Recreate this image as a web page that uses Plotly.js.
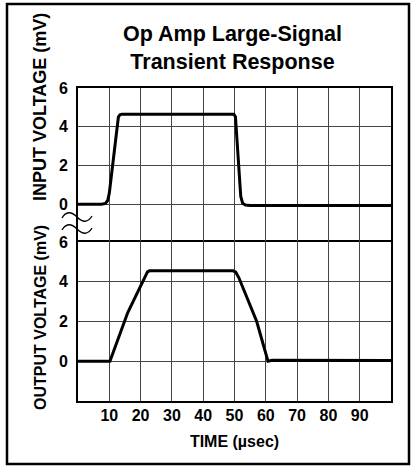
<!DOCTYPE html>
<html>
<head>
<meta charset="utf-8">
<script src="https://cdn.plot.ly/plotly-3.0.1.min.js"></script>
<style>html,body{margin:0;padding:0;background:#fff;}#chart{width:411px;height:466px;}</style>
</head>
<body>
<div id="chart"></div>
<script>
// ---- data ----
var inputTime  = [0, 7.5, 8.8, 9.5, 10.0, 12.9, 13.4, 14.0, 49.8, 50.3, 52.0, 52.6, 53.5, 55, 100];
var inputMv    = [0, 0, 0.04, 0.2, 0.57, 4.5, 4.62, 4.65, 4.65, 4.52, 0.4, 0.05, -0.04, -0.06, -0.06];
var outputTime = [0, 10.2, 15.9, 22.2, 22.8, 49.6, 50.4, 51.4, 57.1, 60.7, 62, 100];
var outputMv   = [0, 0, 2.45, 4.5, 4.55, 4.55, 4.48, 4.2, 2.0, 0.0, 0.05, 0.04];
var xTickVals  = [0, 10, 20, 30, 40, 50, 60, 70, 80, 90, 100];
var xTickText  = ['', '10', '20', '30', '40', '50', '60', '70', '80', '90', ''];
var yTickVals  = [0, 2, 4, 6];
var yTickText  = ['0', '2', '4', '6'];

function bold(arr) { return arr.map(function (s) { return s ? '<b>' + s + '</b>' : ''; }); }

// ---- layout helpers ----
var W = 411, H = 466, L = 78, R = 20, T = 88, B = 65;
var PW = W - L - R, PH = H - T - B;
function px(x) { return (x - L) / PW; }
function py(y) { return (H - B - y) / PH; }
function tilde(yc) {
  return 'M ' + px(62) + ',' + py(yc + 1) +
         ' Q ' + px(68) + ',' + py(yc - 9) + ' ' + px(77) + ',' + py(yc) +
         ' T ' + px(92) + ',' + py(yc - 1);
}
var FONT = 'Liberation Sans, Arial, Helvetica, sans-serif';
var splitY = py(242);

var axisCommon = {
  showline: true, mirror: true, linecolor: '#000', linewidth: 2,
  showgrid: true, gridcolor: '#444', gridwidth: 1, zeroline: false,
  ticks: '', fixedrange: true
};
var tickFont = { family: FONT, size: 16, color: '#000', weight: 'bold' };

var traces = [
  { x: inputTime, y: inputMv, xaxis: 'x2', yaxis: 'y', mode: 'lines',
    line: { color: '#000', width: 3 }, hoverinfo: 'skip', name: 'Input' },
  { x: outputTime, y: outputMv, xaxis: 'x', yaxis: 'y2', mode: 'lines',
    line: { color: '#000', width: 3 }, hoverinfo: 'skip', name: 'Output' }
];

var layout = {
  width: W, height: H,
  margin: { l: L, r: R, t: T, b: B },
  paper_bgcolor: '#fff', plot_bgcolor: '#fff',
  showlegend: false,
  title: {
    text: '<b>Op Amp Large-Signal</b><br><b>Transient Response</b>',
    font: { family: FONT, size: 21.5, color: '#000', weight: 'bold' },
    x: 232.5 / W, xanchor: 'center', xref: 'container',
    y: 1 - 41 / H, yanchor: 'middle', yref: 'container'
  },
  xaxis: Object.assign({}, axisCommon, {
    anchor: 'y2', range: [0, 100], tickmode: 'array',
    tickvals: xTickVals, ticktext: bold(xTickText),
    tickfont: tickFont,
    ticklabelstandoff: -1,
    title: { text: '<b>TIME (µsec)</b>', standoff: 13,
             font: { family: FONT, size: 16, color: '#000', weight: 'bold' } }
  }),
  xaxis2: Object.assign({}, axisCommon, {
    anchor: 'y', matches: 'x', range: [0, 100], tickmode: 'array',
    tickvals: xTickVals, showticklabels: false, side: 'top', mirror: false
  }),
  yaxis: Object.assign({}, axisCommon, {
    domain: [splitY, 1], range: [-1.95, 6], tickmode: 'array',
    tickvals: yTickVals, ticktext: bold(yTickText),
    tickfont: tickFont,
    ticklabelstandoff: 5
  }),
  yaxis2: Object.assign({}, axisCommon, {
    domain: [0, splitY], range: [-2, 6], tickmode: 'array',
    tickvals: yTickVals, ticktext: bold(yTickText),
    tickfont: tickFont,
    ticklabelstandoff: 5
  }),
  annotations: [
    { text: '<b>INPUT VOLTAGE (mV)</b>', textangle: -90, xref: 'paper', yref: 'paper',
      x: px(40), y: py(107), xanchor: 'center', yanchor: 'middle', showarrow: false,
      font: { family: FONT, size: 18, color: '#000', weight: 'bold' } },
    { text: '<b>OUTPUT VOLTAGE (mV)</b>', textangle: -90, xref: 'paper', yref: 'paper',
      x: px(40), y: py(318), xanchor: 'center', yanchor: 'middle', showarrow: false,
      font: { family: FONT, size: 16, color: '#000', weight: 'bold' } }
  ],
  shapes: [
    { type: 'rect', xref: 'paper', yref: 'paper', x0: px(7), x1: px(409), y0: py(4), y1: py(464),
      line: { color: '#000', width: 2.5 }, fillcolor: 'rgba(0,0,0,0)', layer: 'above' },
    { type: 'path', xref: 'paper', yref: 'paper', path: tilde(217), line: { color: '#000', width: 1.3 } },
    { type: 'path', xref: 'paper', yref: 'paper', path: tilde(229), line: { color: '#000', width: 1.3 } }
  ]
};

Plotly.newPlot('chart', traces, layout, { displayModeBar: false, staticPlot: true });
</script>
</body>
</html>
